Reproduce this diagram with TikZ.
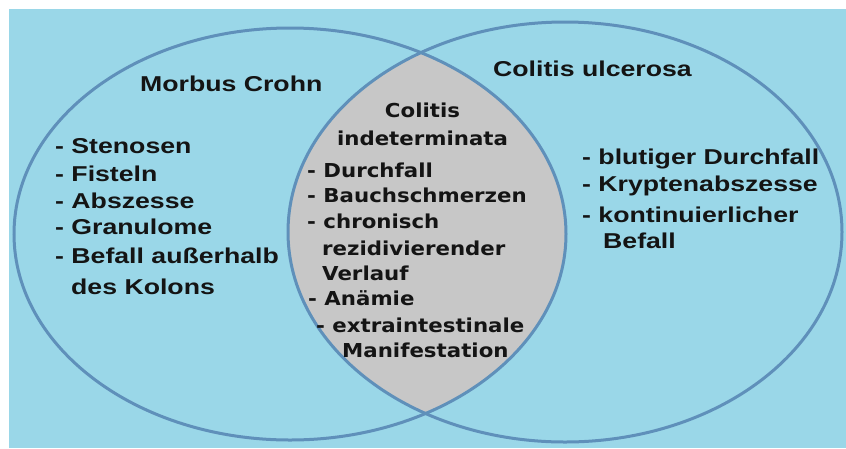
\documentclass[tikz,border=0pt]{standalone}
\usepackage{fontspec}
\newfontfamily\outerfont[FakeStretch=1.24]{Liberation Sans}
\newfontfamily\innerfont[FakeStretch=1.11]{DejaVu Sans}
\definecolor{bgblue}{HTML}{9AD7E8}
\definecolor{ringblue}{HTML}{5F90BA}
\definecolor{lensgray}{HTML}{C7C7C7}
\begin{document}
\begin{tikzpicture}[x=1pt,y=-1pt,
  outer/.style={anchor=base west,inner sep=0pt,font=\outerfont\bfseries\fontsize{21.5}{26}\selectfont,text=black!92},
  inner/.style={anchor=base west,inner sep=0pt,font=\innerfont\bfseries\fontsize{19.2}{23}\selectfont,text=black!92},
  innerc/.style={inner,anchor=base},
  ring/.style={draw=ringblue,line width=3pt}]
\useasboundingbox (0,0) rectangle (846,448);
\fill[white] (0,0) rectangle (846,448);
\fill[bgblue] (9,9) rectangle (846,448);
% lens
\begin{scope}
  \clip (290,234) ellipse [x radius=276, y radius=206];
  \fill[lensgray] (565,232) ellipse [x radius=277, y radius=210];
\end{scope}
\draw[ring] (290,234) ellipse [x radius=276, y radius=206];
\draw[ring] (565,232) ellipse [x radius=277, y radius=210];
% titles
\node[outer] (mc) at (140,91) {Morbus Crohn};
\node[outer] (cu) at (493,76) {Colitis ulcerosa};
% left list
\node[outer] (l1) at (55,153) {- Stenosen};
\node[outer] (l2) at (55,181) {- Fisteln};
\node[outer] (l3) at (55,208) {- Abszesse};
\node[outer] (l4) at (55,234) {- Granulome};
\node[outer] (l5) at (55,263) {- Befall außerhalb};
\node[outer] (l6) at (71,294) {des Kolons};
% right list
\node[outer] (r1) at (582,164) {- blutiger Durchfall};
\node[outer] (r2) at (582,191) {- Kryptenabszesse};
\node[outer] (r3) at (582,222) {- kontinuierlicher};
\node[outer] (r4) at (603,248) {Befall};
% middle
\node[innerc] (m1) at (422.5,117) {Colitis};
\node[innerc] (m2) at (422.5,145) {indeterminata};
\node[inner] (c1) at (307,177) {- Durchfall};
\node[inner] (c2) at (307,202) {- Bauchschmerzen};
\node[inner] (c3) at (307,228) {- chronisch};
\node[inner] (c4) at (322,255) {rezidivierender};
\node[inner] (c5) at (322,280) {Verlauf};
\node[inner] (c6) at (308,305) {- Anämie};
\node[inner] (c7) at (316,332) {- extraintestinale};
\node[inner] (c8) at (342,357) {Manifestation};
\end{tikzpicture}
\end{document}
